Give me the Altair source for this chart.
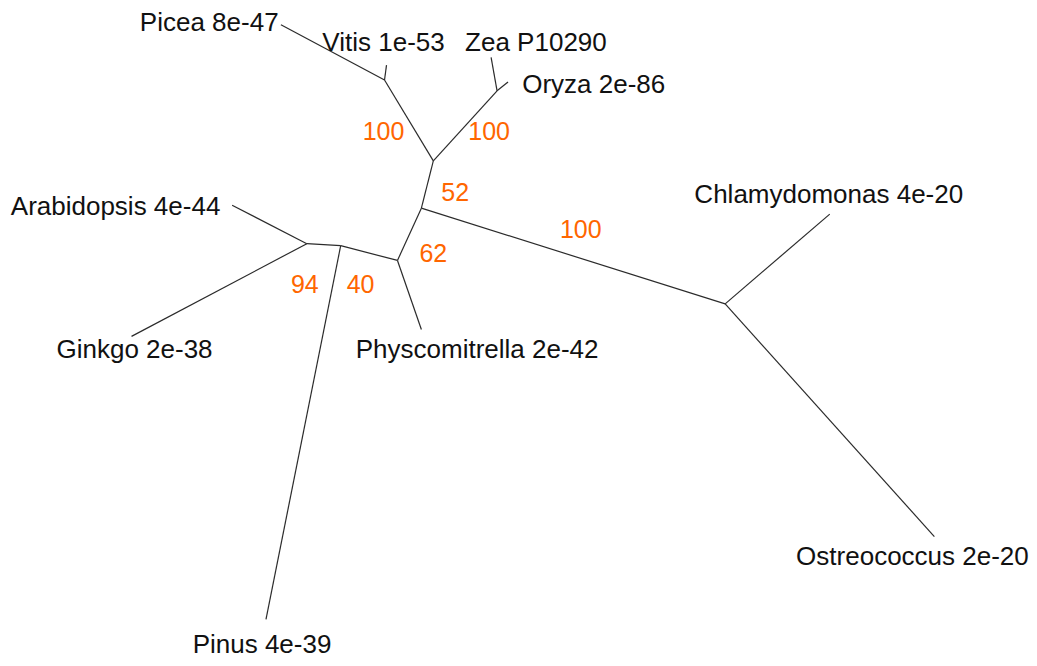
import altair as alt
import pandas as pd

# Tree layout (node coordinates in layout units, y grows downward)
node_names = ["Picea", "Vitis", "Zea", "Oryza", "Arabidopsis", "Ginkgo",
              "Physcomitrella", "Pinus", "Chlamydomonas", "Ostreococcus",
              "PV", "ZO", "A", "B", "C", "D", "E", "F"]
node_x = [282, 388, 493, 510, 233, 132, 423, 267, 833, 938,
          386, 499, 435, 423, 399, 342, 308, 728]
node_y = [25, 66, 58, 83, 208, 341, 334, 628, 217, 544,
          81, 92, 163, 211, 264, 249, 247, 308]

edge_from = ["PV", "PV", "ZO", "ZO", "A", "A", "A", "B", "B", "C", "C", "D", "D", "E", "E", "F", "F"]
edge_to = ["Picea", "Vitis", "Zea", "Oryza", "PV", "ZO", "B", "C", "F", "Physcomitrella", "D",
           "Pinus", "E", "Arabidopsis", "Ginkgo", "Chlamydomonas", "Ostreococcus"]

# Leaf labels
leaf_labels = ["Picea 8e-47", "Vitis 1e-53", "Zea P10290", "Oryza 2e-86",
               "Arabidopsis 4e-44", "Ginkgo 2e-38", "Physcomitrella 2e-42",
               "Chlamydomonas 4e-20", "Ostreococcus 2e-20", "Pinus 4e-39"]
label_x = [210, 385, 538, 596, 116, 135, 479, 832, 916, 263]
label_y = [23, 43, 43, 86, 210, 355, 355, 198, 565, 654]

# Bootstrap support values
support_values = ["100", "100", "52", "100", "62", "94", "40"]
support_x = [385, 491, 457, 583, 435, 306, 362]
support_y = [134, 134, 196, 233, 257, 289, 289]

pos = {n: (x, y) for n, x, y in zip(node_names, node_x, node_y)}
edges = pd.DataFrame({
    "x": [pos[a][0] for a in edge_from],
    "y": [pos[a][1] for a in edge_from],
    "x2": [pos[b][0] for b in edge_to],
    "y2": [pos[b][1] for b in edge_to],
})
labels = pd.DataFrame({"label": leaf_labels, "x": label_x, "y": label_y})
supports = pd.DataFrame({"label": support_values, "x": support_x, "y": support_y})

xs = alt.Scale(domain=[8, 1029], nice=False, zero=False)
ys = alt.Scale(domain=[8, 658], nice=False, zero=False, reverse=True)

lines = alt.Chart(edges).mark_rule(color="#2b2b2b", strokeWidth=1.2).encode(
    x=alt.X("x:Q", scale=xs, axis=None),
    y=alt.Y("y:Q", scale=ys, axis=None),
    x2="x2:Q",
    y2="y2:Q",
)

leaf_text = alt.Chart(labels).mark_text(
    font="Liberation Sans", fontSize=26, color="#111111", align="center", baseline="middle"
).encode(
    x=alt.X("x:Q", scale=xs, axis=None),
    y=alt.Y("y:Q", scale=ys, axis=None),
    text="label:N",
)

support_text = alt.Chart(supports).mark_text(
    font="Liberation Sans", fontSize=25, color="#FF6600", align="center", baseline="middle"
).encode(
    x=alt.X("x:Q", scale=xs, axis=None),
    y=alt.Y("y:Q", scale=ys, axis=None),
    text="label:N",
)

chart = alt.layer(lines, leaf_text, support_text).properties(
    width=1021, height=650,
    autosize=alt.AutoSizeParams(type="fit", contains="padding"),
    padding=0,
).configure_view(stroke=None)

chart.save("out.html", embed_options={"renderer": "svg", "actions": False})
